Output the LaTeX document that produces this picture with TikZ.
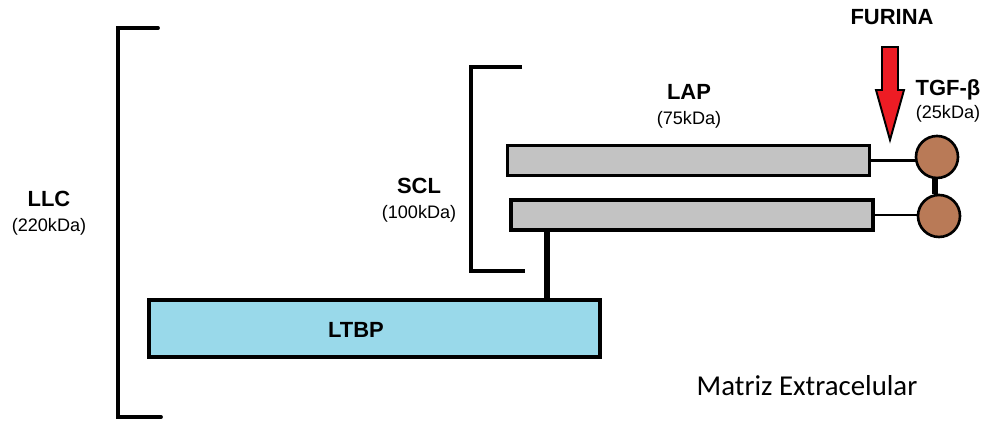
\documentclass[tikz,border=0pt]{standalone}
\usepackage{fontspec}
\setmainfont{Liberation Sans}
\newfontfamily\matrizfont{Carlito}
\usetikzlibrary{positioning}
\definecolor{lapgray}{RGB}{195,195,195}
\definecolor{ltbpblue}{RGB}{153,217,234}
\definecolor{tgfbrown}{RGB}{185,122,87}
\definecolor{furinared}{RGB}{237,28,36}
\tikzset{
  lapbar/.style={
    draw,
    line width=1.8pt,
    fill=lapgray,
    minimum width=7.24cm,
    minimum height=0.6cm,
    inner sep=0pt
  },
  ltbpbox/.style={
    draw,
    line width=1.8pt,
    fill=ltbpblue,
    minimum width=9.02cm,
    minimum height=1.14cm,
    inner sep=0pt
  },
  tgfball/.style={
    circle,
    draw,
    line width=1.5pt,
    fill=tgfbrown,
    minimum size=0.84cm,
    inner sep=0pt
  },
  bracketline/.style={line width=2.2pt, line cap=round},
  scllline/.style={line width=1.8pt},
  thinlink/.style={line width=1.6pt},
  thicklink/.style={line width=3pt},
  furinaarrow/.style={draw, line width=1.1pt, fill=furinared, line join=miter},
  protlabel/.style={font=\bfseries\fontsize{12.5}{14}\selectfont, inner sep=0pt},
  kdalabel/.style={font=\fontsize{10.3}{12}\selectfont, inner sep=0pt}
}

\begin{document}
\begin{tikzpicture}[x=0.02cm, y=-0.02cm]
\useasboundingbox (0,0) rectangle (984,421);

\coordinate (llcA) at (158,28);
\coordinate (llcB) at (118,28);
\coordinate (llcC) at (118,417);
\coordinate (llcD) at (161,417);
\draw[bracketline] (llcA) -- (llcB) -- (llcC) -- (llcD);

\coordinate (sclA) at (522,67);
\coordinate (sclB) at (471,67);
\coordinate (sclC) at (471,271);
\coordinate (sclD) at (525,271);
\draw[scllline] (sclA) -- (sclB) -- (sclC) -- (sclD);

\node[ltbpbox] (ltbp) at (374.5,328.5) {};
\node[lapbar] (lapA) at (688.5,160.5) {};
\node[lapbar] (lapB) at (692,215) {};
\node[tgfball] (tgfA) at (937,157) {};
\node[tgfball] (tgfB) at (939,216) {};

\coordinate (tether) at (547,0);
\draw[thicklink] (lapB.south -| tether) -- (ltbp.north -| tether);
\draw[thinlink] (lapA.east) -- (lapA.east -| tgfA.west);
\draw[thinlink] (lapB.east) -- (lapB.east -| tgfB.west);
\draw[thicklink] ([xshift=-0.04cm]tgfA.south) -- ([xshift=-0.04cm]tgfA.south |- tgfB.north);

\draw[furinaarrow] (882,47) -- (898,47) -- (898,90) -- (904,90) -- (890,140)
  -- (876,90) -- (882,90) -- cycle;

\node[protlabel] (furina) at (892,17) {FURINA};
\node[protlabel] (llc) at (49,199) {LLC};
\node[kdalabel] (llckda) at (49,227) {(220kDa)};
\node[protlabel] (scl) at (419,186) {SCL};
\node[kdalabel] (sclkda) at (419,214) {(100kDa)};
\node[protlabel] (lap) at (689,92) {LAP};
\node[kdalabel] (lapkda) at (689,120) {(75kDa)};
\node[protlabel] (tgf) at (948,90) {TGF-β};
\node[kdalabel] (tgfkda) at (948,114) {(25kDa)};
\node[protlabel] (ltbplbl) at (356,330) {LTBP};
\node[font=\matrizfont\fontsize{16.4}{19}\selectfont, inner sep=0pt] (ecm) at (807,386) {Matriz Extracelular};
\end{tikzpicture}
\end{document}
